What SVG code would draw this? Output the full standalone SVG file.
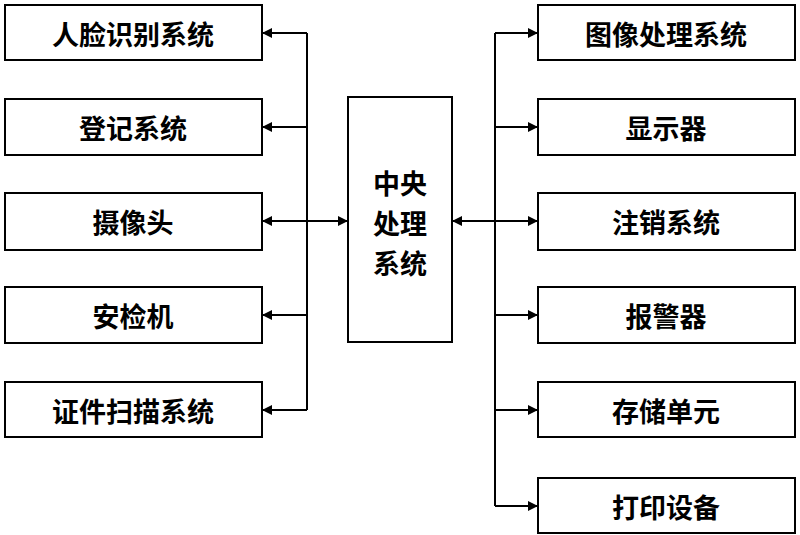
<svg xmlns="http://www.w3.org/2000/svg" width="800" height="535" viewBox="0 0 800 535">
<defs>
<marker id="a" viewBox="0 0 10 10" refX="10" refY="5" markerWidth="10" markerHeight="10" markerUnits="userSpaceOnUse" orient="auto-start-reverse"><path d="M0,0 L10,5 L0,10 z" fill="#000"/></marker>
<style>
rect{fill:#fff;stroke:#000;stroke-width:2}
text{font-family:"Noto Sans CJK SC",sans-serif;font-size:27px;font-weight:bold;text-anchor:middle;dominant-baseline:central;fill:#000}
.c line{stroke:#000;stroke-width:2}
</style>
</defs>
<rect width="800" height="535" style="stroke:none"/>
<g id="n1"><rect x="5" y="5" width="257" height="55"/><text x="133" y="33">人脸识别系统</text></g>
<g id="n2"><rect x="5" y="99" width="257" height="56"/><text x="133" y="127">登记系统</text></g>
<g id="n3"><rect x="5" y="193" width="257" height="57"/><text x="133" y="221">摄像头</text></g>
<g id="n4"><rect x="5" y="287" width="257" height="56"/><text x="133" y="315">安检机</text></g>
<g id="n5"><rect x="5" y="382" width="257" height="55"/><text x="133" y="410">证件扫描系统</text></g>
<g id="c"><rect x="348" y="97" width="104" height="245"/><text x="400" y="182">中央</text><text x="400" y="222">处理</text><text x="400" y="262">系统</text></g>
<g id="r1"><rect x="538" y="5" width="257" height="55"/><text x="666" y="33">图像处理系统</text></g>
<g id="r2"><rect x="538" y="99" width="257" height="56"/><text x="666" y="127">显示器</text></g>
<g id="r3"><rect x="538" y="193" width="257" height="57"/><text x="666" y="221">注销系统</text></g>
<g id="r4"><rect x="538" y="287" width="257" height="56"/><text x="666" y="315">报警器</text></g>
<g id="r5"><rect x="538" y="382" width="257" height="55"/><text x="666" y="410">存储单元</text></g>
<g id="r6"><rect x="538" y="478" width="257" height="55"/><text x="666" y="506">打印设备</text></g>
<g class="c">
<line x1="307" y1="33" x2="307" y2="410"/>
<line x1="307" y1="33" x2="262" y2="33" marker-end="url(#a)"/>
<line x1="307" y1="127" x2="262" y2="127" marker-end="url(#a)"/>
<line x1="262" y1="221" x2="348" y2="221" marker-start="url(#a)" marker-end="url(#a)"/>
<line x1="307" y1="315" x2="262" y2="315" marker-end="url(#a)"/>
<line x1="307" y1="410" x2="262" y2="410" marker-end="url(#a)"/>
<line x1="495" y1="33" x2="495" y2="506"/>
<line x1="452" y1="221" x2="538" y2="221" marker-start="url(#a)" marker-end="url(#a)"/>
<line x1="495" y1="33" x2="538" y2="33" marker-end="url(#a)"/>
<line x1="495" y1="127" x2="538" y2="127" marker-end="url(#a)"/>
<line x1="495" y1="315" x2="538" y2="315" marker-end="url(#a)"/>
<line x1="495" y1="410" x2="538" y2="410" marker-end="url(#a)"/>
<line x1="495" y1="506" x2="538" y2="506" marker-end="url(#a)"/>
</g>
</svg>
